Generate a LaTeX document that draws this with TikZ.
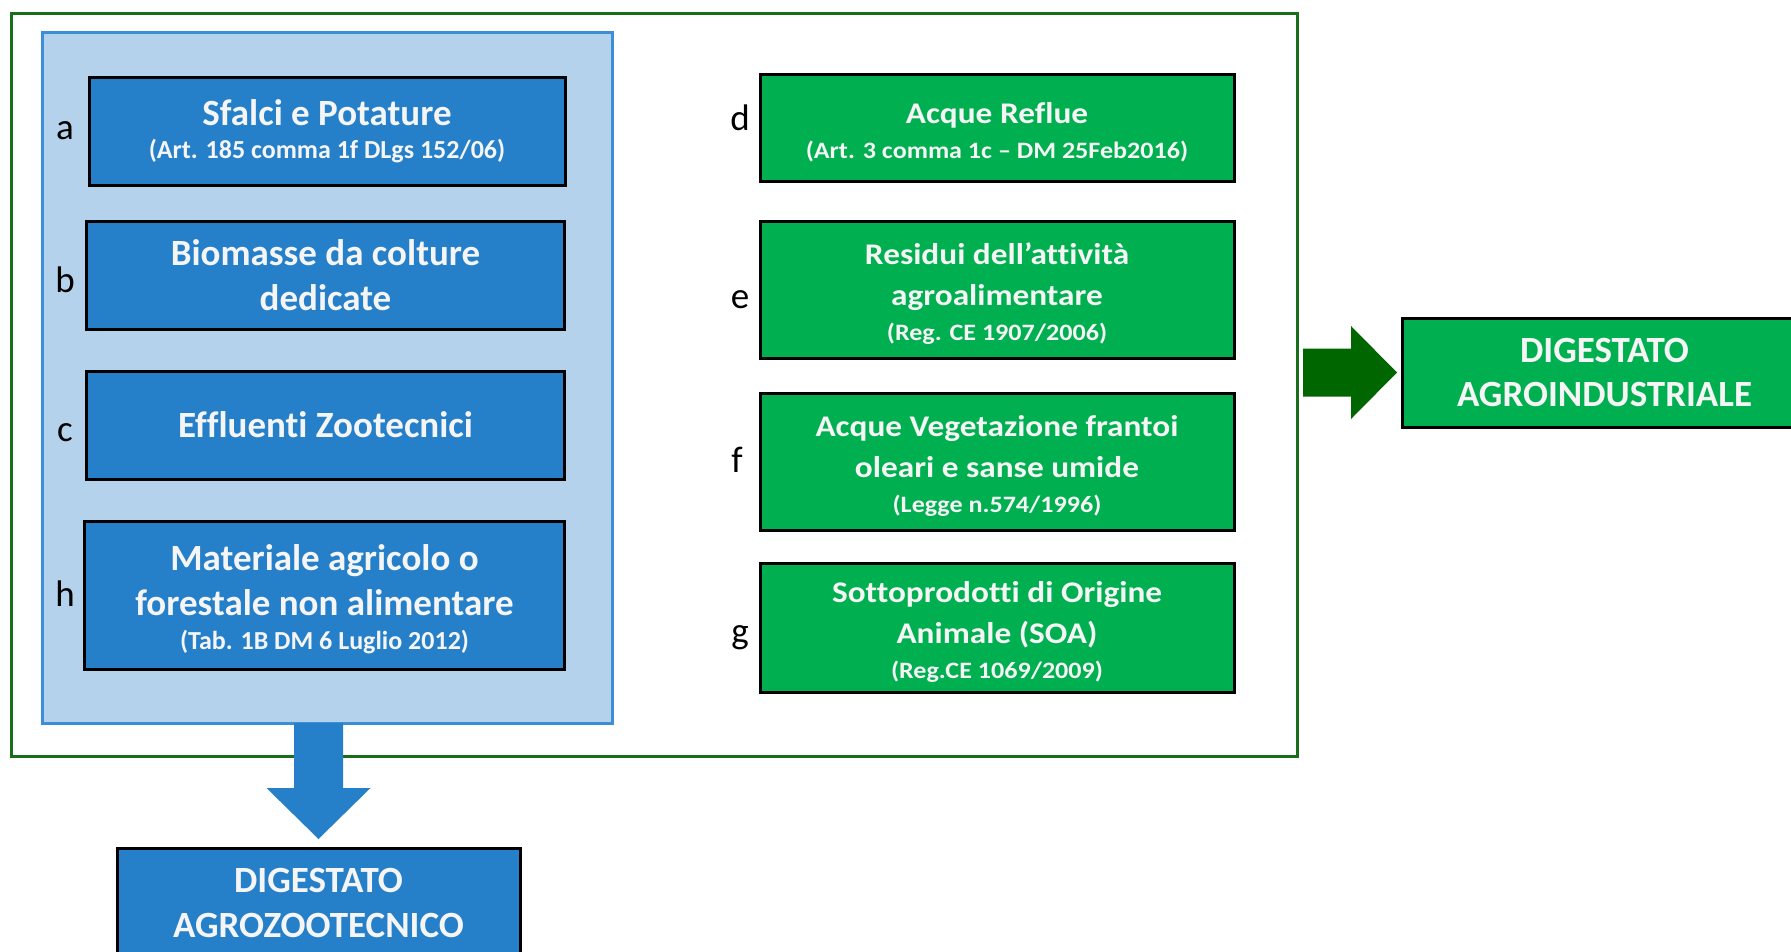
\documentclass[tikz,border=0pt]{standalone}
\usepackage{fontspec}
\setmainfont{Carlito}[Ligatures=NoCommon]
\newfontfamily\greenfont{Carlito}[Ligatures=NoCommon, FakeStretch=1.11]
\usetikzlibrary{calc}
\definecolor{outergreen}{RGB}{25,110,25}
\definecolor{arrowgreen}{RGB}{0,102,0}
\definecolor{boxgreen}{RGB}{0,176,80}
\definecolor{boxblue}{RGB}{38,128,201}
\definecolor{lightblue}{RGB}{180,210,235}
\definecolor{lightblueborder}{RGB}{60,142,215}
\definecolor{txtwhite}{RGB}{245,245,245}
\newcommand\blueref[1]{{\fontsize{26}{30}\selectfont #1}}
\newcommand\greenref[1]{{\fontsize{23.5}{30}\selectfont #1}}
\newcommand\gup{\rule{0pt}{30pt}}
\tikzset{
  bluebox/.style={draw=black, line width=3pt, fill=boxblue, text=txtwhite, align=center,
    inner sep=0pt, outer sep=0pt, font=\bfseries\fontsize{37}{44.5}\selectfont},
  greenbox/.style={draw=black, line width=3pt, fill=boxgreen, text=txtwhite, align=center,
    inner sep=0pt, outer sep=0pt, font=\greenfont\bfseries\fontsize{30}{41}\selectfont},
  lbl/.style={inner sep=0pt, font=\fontsize{37}{44}\selectfont},
}
\begin{document}
\begin{tikzpicture}[x=1pt,y=-1pt]
\useasboundingbox (0,0) rectangle (1791,951);
\clip (0,0) rectangle (1791,951);
\fill[white] (0,0) rectangle (1791,951);
% containers
\node[draw=outergreen, line width=3pt, minimum width=1286pt, minimum height=743pt, inner sep=0pt, outer sep=0pt] (outer) at (654,384.5) {};
\node[draw=lightblueborder, fill=lightblue, line width=3pt, minimum width=570pt, minimum height=691pt, inner sep=0pt, outer sep=0pt] (lb) at (327,377.5) {};
% blue boxes
\node[bluebox, minimum width=476pt, minimum height=108pt] (a) at (327,131) {Sfalci e Potature\\[-11pt]\blueref{(Art. 185 comma 1f DLgs 152/06)}};
\node[bluebox, minimum width=478pt, minimum height=108pt] (b) at (325.5,275) {Biomasse da colture\\dedicate};
\node[bluebox, minimum width=478pt, minimum height=108pt] (c) at (325.5,425) {Effluenti Zootecnici};
\node[bluebox, minimum width=480pt, minimum height=148pt] (h) at (324.5,595) {\rule{0pt}{35pt}Materiale agricolo o\\forestale non alimentare\\[-10pt]\blueref{(Tab. 1B DM 6 Luglio 2012)}};
% green boxes
\node[greenbox, minimum width=474pt, minimum height=107pt] (d) at (997,127.5) {\gup Acque Reflue\\[-6pt]\greenref{(Art. 3 comma 1c – DM 25Feb2016)}};
\node[greenbox, minimum width=474pt, minimum height=137pt] (e) at (997,289.5) {\gup Residui dell’attività\\agroalimentare\\[-6pt]\greenref{(Reg. CE 1907/2006)}};
\node[greenbox, minimum width=474pt, minimum height=137pt] (f) at (997,461.5) {\gup Acque Vegetazione frantoi\\oleari e sanse umide\\[-6pt]\greenref{(Legge n.574/1996)}};
\node[greenbox, minimum width=474pt, minimum height=129pt] (g) at (997,627.5) {\gup Sottoprodotti di Origine\\Animale (SOA)\\[-6pt]\greenref{(Reg.CE 1069/2009)}};
% letters
\node[lbl] (la) at (65,131) {a};
\node[lbl] (lbb) at (65,280) {b};
\node[lbl] (lc) at (65,433) {c};
\node[lbl] (lh) at (65,594) {h};
\node[lbl] (ld) at (740,118) {d};
\node[lbl] (le) at (740,300) {e};
\node[lbl] (lf) at (737,460) {f};
\node[lbl] (lg) at (740,638) {g};
% outputs
\node[bluebox, minimum width=403pt, minimum height=110pt] (zoo) at (318.5,903) {DIGESTATO\\AGROZOOTECNICO};
\node[greenbox, font=\bfseries\fontsize{37}{44.5}\selectfont, minimum width=405pt, minimum height=109pt] (ind) at (1604.5,372.5) {DIGESTATO\\AGROINDUSTRIALE};
% right block arrow
\coordinate (ra) at (outer.east |- ind.west);
\fill[arrowgreen] ($(ra)+(6,-24)$) -- ($(ra)+(54,-24)$) -- ($(ra)+(54,-46.5)$) -- ($(ind.west)+(-5,0)$)
  -- ($(ra)+(54,46.5)$) -- ($(ra)+(54,24)$) -- ($(ra)+(6,24)$) -- cycle;
% down block arrow
\coordinate (da) at (lb.south -| zoo.north);
\fill[boxblue] ($(da)+(-24.5,0)$) -- ($(da)+(-24.5,65)$) -- ($(da)+(-52,65)$) -- ($(zoo.north)+(0,-9)$)
  -- ($(da)+(52,65)$) -- ($(da)+(24.5,65)$) -- ($(da)+(24.5,0)$) -- cycle;
\end{tikzpicture}
\end{document}
